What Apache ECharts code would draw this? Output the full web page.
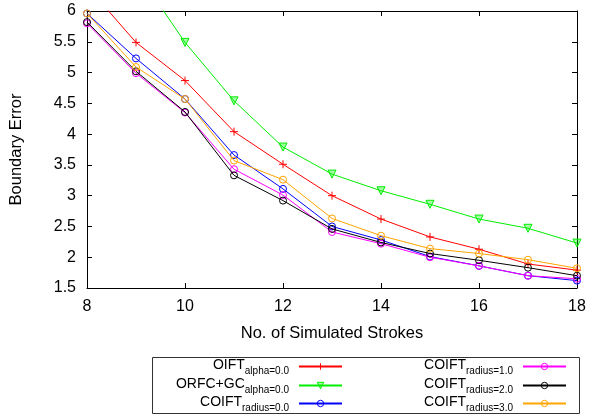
<!DOCTYPE html>
<html><head><meta charset="utf-8">
<script src="https://cdn.jsdelivr.net/npm/echarts@6/dist/echarts.min.js"></script>
<style>html,body{margin:0;padding:0;background:#fff}#c{width:589px;height:415px}</style>
</head><body><div id="c"></div>
<script>
const strokes = [8, 9, 10, 11, 12, 13, 14, 15, 16, 17, 18];
const oift = [6.40, 5.49, 4.87, 4.04, 3.51, 3.00, 2.62, 2.33, 2.13, 1.89, 1.79];
const orfcGc = [8.0, 6.66, 5.49, 4.54, 3.79, 3.35, 3.08, 2.86, 2.62, 2.47, 2.23];
const coift0 = [5.96, 5.23, 4.57, 3.66, 3.11, 2.50, 2.28, 2.01, 1.86, 1.70, 1.62];
const coift1 = [5.80, 4.99, 4.35, 3.43, 3.01, 2.41, 2.22, 2.00, 1.86, 1.70, 1.65];
const coift2 = [5.82, 5.02, 4.36, 3.33, 2.92, 2.46, 2.24, 2.06, 1.95, 1.83, 1.70];
const coift3 = [5.96, 5.09, 4.57, 3.57, 3.26, 2.63, 2.35, 2.14, 2.06, 1.96, 1.82];
const mainNames = ['OIFT', 'ORFC+GC', 'COIFT', 'COIFT', 'COIFT', 'COIFT'];
const subNames = ['alpha=0.0', 'alpha=0.0', 'radius=0.0', 'radius=1.0', 'radius=2.0', 'radius=3.0'];
const xTicks = [8, 10, 12, 14, 16, 18];
const yTicks = [1.5, 2, 2.5, 3, 3.5, 4, 4.5, 5, 5.5, 6];

const FONT = 'Liberation Sans';
const seriesData = [oift, orfcGc, coift0, coift1, coift2, coift3];
const colors = ['#ff0000', '#00ee00', '#0000ff', '#ff00ff', '#000000', '#ffa500'];
const symbols = [
  'path://M0,5 L10,5 M5,0 L5,10',
  'path://M0,0 L10,0 L5,9 Z',
  'circle', 'circle', 'circle', 'circle'
];
const symSizes = [8, 8, 7, 7, 7, 7];
const fills = ['#ff0000', 'rgba(0,238,0,0.35)', 'rgba(255,255,255,0)', 'rgba(255,255,255,0)', 'rgba(255,255,255,0)', 'rgba(255,255,255,0)'];
const names = mainNames.map((m, i) => m + '_' + subNames[i]);

const series = seriesData.map((d, i) => ({
  name: names[i],
  type: 'line',
  data: strokes.map((x, j) => ({
    value: [x, d[j]],
    itemStyle: { color: fills[i], borderColor: colors[i], borderWidth: 1 }
  })),
  symbol: symbols[i],
  symbolSize: symSizes[i],
  showAllSymbol: true,
  clip: true,
  lineStyle: { color: colors[i], width: 1 },
  itemStyle: { color: colors[i], borderColor: colors[i], borderWidth: 1 },
  emphasis: { disabled: true },
  animation: false,
  z: 2 + i
}));

const rowTops = [358, 377, 395];
const legends = names.map((n, i) => ({
  data: [n],
  orient: 'vertical',
  align: 'right',
  right: i < 3 ? 246 : 22,
  top: rowTops[i % 3],
  itemWidth: 43,
  itemHeight: 8,
  selectedMode: false,
  padding: 0,
  itemStyle: { color: fills[i], borderColor: colors[i], borderWidth: 1 },
  formatter: () => '{a|' + mainNames[i] + '}{b|' + subNames[i] + '}',
  textStyle: {
    padding: [0, 5, 0, 0],
    rich: {
      a: { fontFamily: FONT, fontSize: 14, color: '#000', verticalAlign: 'top', lineHeight: 17 },
      b: { fontFamily: FONT, fontSize: 10, color: '#000', verticalAlign: 'top', padding: [8, 0, 0, 0], lineHeight: 17 }
    }
  }
}));

const axisCommonX = {
  type: 'value', min: 8, max: 18, interval: 2,
  axisLine: { show: true, onZero: false, lineStyle: { color: '#000', width: 1 } },
  axisTick: { show: true, inside: true, length: 5, lineStyle: { color: '#000' } },
  splitLine: { show: false }
};
const axisCommonY = {
  type: 'value', min: 1.5, max: 6, interval: 0.5,
  axisLine: { show: true, onZero: false, lineStyle: { color: '#000', width: 1 } },
  axisTick: { show: true, inside: true, length: 5, lineStyle: { color: '#000' } },
  splitLine: { show: false }
};

const chart = echarts.init(document.getElementById('c'), null, { renderer: 'canvas' });
chart.setOption({
  animation: false,
  backgroundColor: '#fff',
  grid: { left: 85, right: 12, top: 11, bottom: 127, containLabel: false },
  xAxis: [
    Object.assign({}, axisCommonX, {
      position: 'bottom',
      name: 'No. of Simulated Strokes', nameLocation: 'middle', nameGap: 37,
      nameTextStyle: { fontFamily: FONT, fontSize: 16.5, color: '#000' },
      axisLabel: { fontFamily: FONT, fontSize: 16, color: '#000', margin: 11,
        formatter: v => xTicks.includes(v) ? String(v) : '' }
    }),
    Object.assign({}, axisCommonX, { position: 'top', axisLabel: { show: false } })
  ],
  yAxis: [
    Object.assign({}, axisCommonY, {
      position: 'left',
      name: 'Boundary Error', nameLocation: 'middle', nameGap: 62, nameRotate: 90,
      nameTextStyle: { fontFamily: FONT, fontSize: 16.5, color: '#000' },
      axisLabel: { fontFamily: FONT, fontSize: 16, color: '#000', margin: 11,
        formatter: v => yTicks.includes(v) ? String(v) : '' }
    }),
    Object.assign({}, axisCommonY, { position: 'right', axisLabel: { show: false } })
  ],
  legend: legends,
  graphic: [{
    type: 'rect', left: 150, top: 355, silent: true,
    shape: { width: 427, height: 56 },
    style: { fill: 'none', stroke: '#333', lineWidth: 1 }
  }],
  series: series
});
</script>
</body></html>
